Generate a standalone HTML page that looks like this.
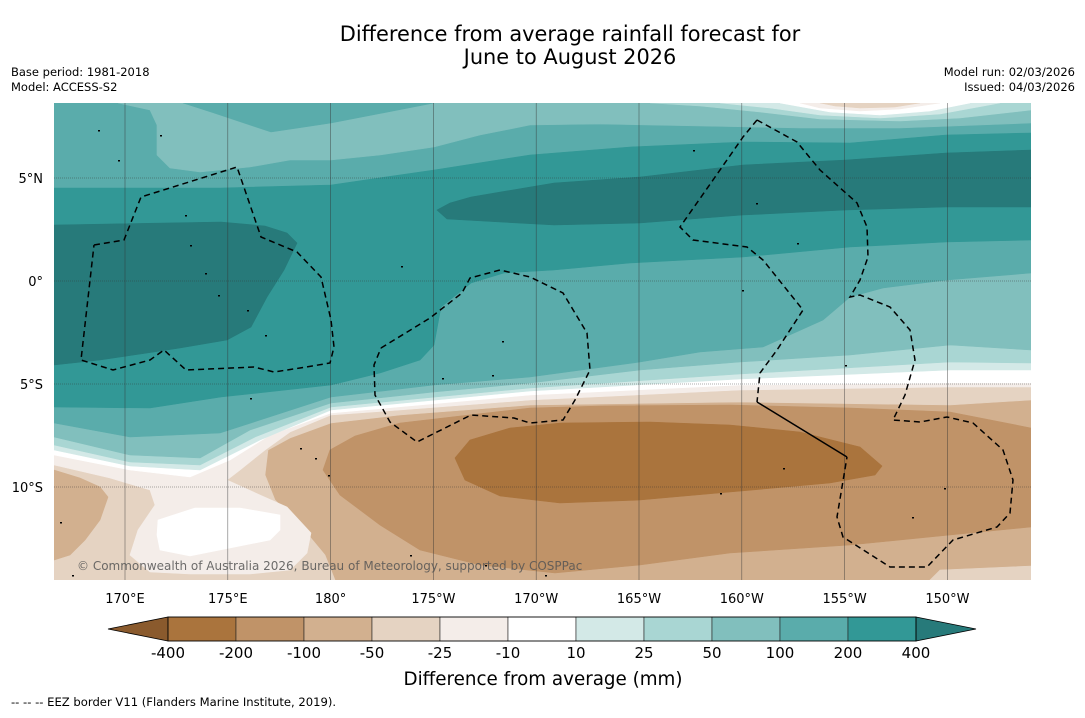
<!DOCTYPE html>
<html><head><meta charset="utf-8"><style>
html,body{margin:0;padding:0;background:#fff;}
body{width:1085px;height:713px;position:relative;overflow:hidden;font-family:"Liberation Sans","DejaVu Sans",sans-serif;}
svg text{font-family:"DejaVu Sans","Liberation Sans",sans-serif;}
</style></head><body>
<svg id="chart" width="1085" height="713" xmlns="http://www.w3.org/2000/svg">
<text x="570" y="41" text-anchor="middle" font-size="20.9" fill="#000">Difference from average rainfall forecast for</text>
<text x="570" y="64" text-anchor="middle" font-size="20.9" fill="#000">June to August 2026</text>
<text x="11" y="76" font-size="11.5" fill="#000">Base period: 1981-2018</text>
<text x="11" y="91" font-size="11.5" fill="#000">Model: ACCESS-S2</text>
<text x="1075" y="76" text-anchor="end" font-size="11.5" fill="#000">Model run: 02/03/2026</text>
<text x="1075" y="91" text-anchor="end" font-size="11.5" fill="#000">Issued: 04/03/2026</text>
<defs><clipPath id="mapclip"><rect x="54" y="103" width="977" height="477"/></clipPath></defs>
<g id="map" clip-path="url(#mapclip)"></g>
<g id="axes"></g>
<g id="cbar"></g>
<text x="543" y="685" text-anchor="middle" font-size="18.3" fill="#000">Difference from average (mm)</text>
<text x="11" y="706" font-size="11.6" fill="#000">--  --  -- EEZ border V11 (Flanders Marine Institute, 2019).</text>
</svg>
<script>
// Colour scale data
const levelLabels = ["-400","-200","-100","-50","-25","-10","10","25","50","100","200","400"];
const bandColors = ["#aa743d","#c09368","#d2b08f","#e5d3c2","#f4ede9","#ffffff","#d3e9e7","#a9d6d3","#81bfbd","#5aacab","#329896"];
const extendLow = "#8a5a2d", extendHigh = "#277a7a";
// Axis ticks
const lonTicks = [170,175,180,185,190,195,200,205,210];
const lonTickLabels = ["170°E","175°E","180°","175°W","170°W","165°W","160°W","155°W","150°W"];
const latTicks = [5,0,-5,-10];
const latTickLabels = ["5°N","0°","5°S","10°S"];
// Map projection (map pixel frame)
const xOf = lon => 125 + (lon-170)*20.56;
const yOf = lat => 281 - lat*20.6;
const C = {B2:"#d2b08f",B1:"#e5d3c2",B0:"#f4ede9",W:"#ffffff",G0:"#d3e9e7",G1:"#a9d6d3",G2:"#81bfbd",G3:"#5aacab",G4:"#329896",G5:"#277a7a",B3:"#c09368",B4:"#aa743d"};
// Filled contour regions (map frame coordinates, painter order)
const contourFills = [
 ["B2",[[54,103],[1031,103],[1031,580],[54,580]]],
 ["B1",[[54,103],[1031,103],[1031,400],[950,405],[740,402],[530,405],[400,415],[331,423],[290,438],[268,450],[265,475],[275,500],[300,525],[325,555],[335,580],[54,580]]],
 ["B2",[[54,470],[80,478],[100,487],[108,497],[100,520],[85,540],[70,555],[54,560]]],
 ["B1",[[940,570],[1031,566],[1031,580],[930,580]]],
 ["B0",[[54,103],[1031,103],[1031,387],[950,387],[740,390],[530,400],[400,410],[331,415],[290,432],[265,450],[240,470],[227,480],[260,495],[287,507],[311,533],[307,553],[290,570],[250,574],[190,574],[150,572],[130,555],[138,530],[155,505],[150,490],[110,478],[54,465]]],
 ["W",[[54,103],[1031,103],[1031,383],[950,383],[740,385],[530,395],[331,413],[270,435],[230,460],[190,477],[130,470],[54,455]]],
 ["W",[[158,520],[195,508],[240,508],[280,515],[280,530],[270,540],[230,548],[190,556],[160,550],[157,535]]],
 ["G0",[[54,103],[1031,103],[1031,370],[950,370],[740,379],[530,391],[331,410],[260,440],[200,470],[130,466],[54,450]]],
 ["G1",[[54,103],[1031,103],[1031,363],[950,362],[740,374],[530,388],[331,407],[255,437],[200,465],[130,462],[54,445]]],
 ["G2",[[54,103],[1031,103],[1031,350],[950,345],[850,355],[740,362],[640,370],[530,383],[434,392],[331,403],[250,430],[200,458],[130,455],[54,437]]],
 ["G3",[[54,103],[1031,103],[1031,273],[947,280],[883,288],[850,297],[823,320],[763,347],[700,352],[640,362],[530,377],[434,385],[331,397],[220,433],[130,437],[54,423]]],
 ["G4",[[54,188],[221,188],[331,185],[434,170],[530,155],[630,147],[743,142],[850,143],[946,135],[1031,133],[1031,240],[946,242],[850,247],[743,257],[630,263],[554,270],[504,273],[471,283],[441,307],[434,345],[420,360],[380,373],[331,385],[221,397],[150,408],[54,407]]],
 ["G5",[[54,225],[221,222],[265,226],[287,233],[297,243],[284,270],[267,297],[251,327],[227,340],[180,348],[154,352],[100,360],[54,365]]],
 ["G5",[[437,210],[450,203],[471,197],[554,183],[640,177],[743,165],[846,160],[946,153],[1031,150],[1031,207],[946,207],[846,210],[743,215],[640,223],[554,225],[500,222],[447,219]]],
 ["G2",[[118,103],[1031,103],[1031,123],[900,128],[800,128],[700,126],[600,124],[530,125],[480,135],[434,147],[380,155],[331,160],[290,160],[250,167],[200,172],[170,168],[157,155],[157,125],[150,110]]],
 ["G3",[[183,103],[214,113],[271,132],[331,123],[434,103]]],
 ["G1",[[650,103],[1031,103],[1031,110],[960,118],[900,121],[820,119],[760,112],[700,106]]],
 ["G0",[[720,103],[1000,103],[940,114],[880,118],[820,115],[770,108]]],
 ["W",[[780,103],[970,103],[930,111],[880,115],[830,112]]],
 ["B0",[[800,103],[940,103],[900,109],[860,111],[820,108]]],
 ["B1",[[820,103],[920,103],[895,107],[860,108],[835,106]]],
 ["B3",[[1031,428],[950,412],[850,408],[730,405],[600,406],[530,408],[460,416],[400,423],[355,436],[330,450],[323,470],[340,495],[380,525],[420,550],[480,565],[555,573],[640,565],[730,553],[850,545],[950,535],[1031,527]]],
 ["B4",[[455,458],[470,440],[510,428],[560,423],[650,422],[730,425],[800,432],[860,447],[882,466],[875,475],[830,483],[730,492],[640,500],[560,503],[500,496],[465,480]]]
];
const eezDashed = [
 [[94,245],[124,240],[141,197],[237,167],[261,237],[297,252],[321,277],[331,320],[334,347],[330,363],[300,368],[274,372],[254,367],[186,370],[164,350],[150,360],[113,370],[81,360],[94,245]],
 [[381,348],[430,318],[462,293],[470,278],[500,270],[530,277],[563,293],[587,333],[590,370],[575,400],[563,420],[530,423],[514,418],[471,415],[417,442],[390,422],[375,395],[374,365],[381,348]],
 [[757,120],[797,142],[820,170],[857,203],[867,227],[868,257],[860,280],[850,297],[860,295],[890,307],[910,330],[915,360],[905,395],[893,420],[920,422],[947,417],[973,423],[1003,450],[1013,480],[1010,513],[997,527],[953,540],[927,567],[890,567],[843,537],[837,517],[847,457]],
 [[757,120],[743,137],[713,180],[680,227],[693,240],[747,247],[763,260],[803,310],[777,350],[760,373],[757,402]]
];
const eezSolid = [[[757,402],[847,457]]];
const islands = [[98,130],[118,160],[160,135],[185,215],[190,245],[205,273],[218,295],[247,310],[265,335],[401,266],[502,341],[442,378],[492,375],[250,398],[300,448],[315,458],[328,475],[410,555],[485,565],[545,575],[693,150],[756,203],[797,243],[742,290],[783,468],[720,493],[845,365],[912,517],[944,488],[60,522],[72,575]];

const NS="http://www.w3.org/2000/svg";
function mk(tag, attrs, parent){const e=document.createElementNS(NS,tag);for(const k in attrs)e.setAttribute(k,attrs[k]);parent.appendChild(e);return e;}
const map=document.getElementById('map');
contourFills.forEach(([lvl,pts])=>{
  const p=mk('polygon',{points:pts.map(q=>q.join(',')).join(' '),fill:C[lvl],stroke:C[lvl],'stroke-width':0.6},map);
  
  
});
lonTicks.forEach(l=>{const ln=mk('line',{x1:xOf(l),x2:xOf(l),y1:103,y2:580,stroke:'#333','stroke-width':0.6,'stroke-opacity':0.7},map);
  
  });
latTicks.forEach(l=>{const ln=mk('line',{x1:54,x2:1031,y1:yOf(l),y2:yOf(l),stroke:'#333','stroke-width':0.6,'stroke-dasharray':'1,1','stroke-opacity':0.8},map);
  
  });
islands.forEach(q=>{const c=mk('rect',{x:q[0],y:q[1],width:2,height:1.5,fill:'#000'},map);
  
  });
eezDashed.forEach(pts=>{const p=mk('polyline',{points:pts.map(q=>q.join(',')).join(' '),fill:'none',stroke:'#000','stroke-width':1.5,'stroke-dasharray':'6,4'},map);
  
  });
eezSolid.forEach(pts=>{const p=mk('polyline',{points:pts.map(q=>q.join(',')).join(' '),fill:'none',stroke:'#000','stroke-width':1.5},map);
  
  });
const cp=mk('text',{x:77,y:570,'font-size':12,fill:'#555','fill-opacity':0.85},map);


cp.textContent='© Commonwealth of Australia 2026, Bureau of Meteorology, supported by COSPPac';
const axes=document.getElementById('axes');
lonTicks.forEach((l,i)=>{const t=mk('text',{x:xOf(l),y:603,'text-anchor':'middle','font-size':13,fill:'#000'},axes);
  
  
  t.textContent=lonTickLabels[i];});
latTicks.forEach((l,i)=>{const t=mk('text',{x:43,y:yOf(l)+5,'text-anchor':'end','font-size':13,fill:'#000'},axes);
  
  
  t.textContent=latTickLabels[i];});
const cb=document.getElementById('cbar');
const cbX0=168, cbW=68, cbY=617, cbH=24;
const lowTri=mk('polygon',{points:`108,${cbY+cbH/2} ${cbX0},${cbY} ${cbX0},${cbY+cbH}`,fill:extendLow,stroke:'#000','stroke-width':0.8},cb);


bandColors.forEach((c,i)=>{const r=mk('rect',{x:cbX0+i*cbW,y:cbY,width:cbW,height:cbH,fill:c,stroke:'#222','stroke-width':0.6},cb);
  
  });
const x1=cbX0+bandColors.length*cbW;
const hiTri=mk('polygon',{points:`${x1},${cbY} ${x1+60},${cbY+cbH/2} ${x1},${cbY+cbH}`,fill:extendHigh,stroke:'#000','stroke-width':0.8},cb);


mk('rect',{x:cbX0,y:cbY,width:bandColors.length*cbW,height:cbH,fill:'none',stroke:'#000','stroke-width':0.8},cb);
levelLabels.forEach((s,i)=>{const t=mk('text',{x:cbX0+i*cbW,y:658,'text-anchor':'middle','font-size':15,fill:'#000'},cb);
  
  
  t.textContent=s;});
</script>
</body></html>
